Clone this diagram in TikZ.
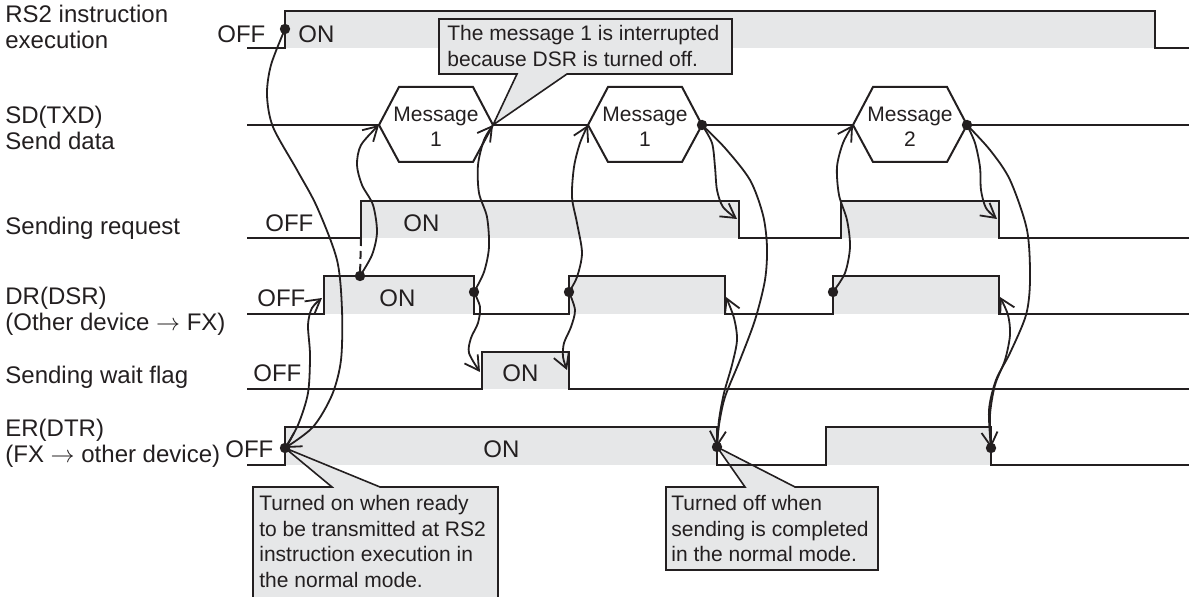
\documentclass[tikz,border=0pt]{standalone}
\usepackage{fontspec}
\setmainfont{Liberation Sans}
\usetikzlibrary{arrows.meta}
\definecolor{linecolor}{RGB}{35,31,32}
\definecolor{oncolor}{RGB}{230,231,232}

\begin{document}
\begin{tikzpicture}[
    x=0.5pt, y=-0.5pt,
    sig/.style={draw=linecolor, line width=1.3pt},
    onfill/.style={fill=oncolor},
    hexline/.style={draw=linecolor, line width=1pt},
    lbl/.style={anchor=north west, inner sep=0pt, align=left, text=linecolor, font=\fontsize{12}{13}\selectfont},
    lbl1/.style={lbl, anchor=base west},
    onoff/.style={anchor=base west, inner sep=0pt, text=linecolor, font=\fontsize{12}{13}\selectfont},
    msgtxt/.style={inner sep=0pt, align=center, text=linecolor, font=\fontsize{10.5}{12.5}\selectfont},
    arrow/.style={draw=linecolor, line width=0.9pt, -{Straight Barb[length=7pt, width=8pt]}},
    dot/.style={fill=linecolor},
    note/.style={fill=oncolor, draw=linecolor, line width=0.8pt},
    notetxt/.style={anchor=north west, inner sep=0pt, align=left, text=linecolor, font=\fontsize{10.5}{12.75}\selectfont}
]
\useasboundingbox (0,0) rectangle (1189,597);
\clip (0,0) rectangle (1189,597);

% Signal names
\node[lbl] (rs2name) at (5,5) {RS2 instruction\\execution};
\node[lbl] (sdname) at (5,106) {SD(TXD)\\Send data};
\node[lbl1] (reqname) at (5,235) {Sending request};
\node[lbl] (drname) at (5,287) {DR(DSR)\\(Other device $\rightarrow$ FX)};
\node[lbl1] (wfname) at (5,384) {Sending wait flag};
\node[lbl] (ername) at (5,419) {ER(DTR)\\(FX $\rightarrow$ other device)};

% ON areas
\fill[onfill] (285,11) rectangle (1155,48);
\fill[onfill] (361,201) rectangle (739,238);
\fill[onfill] (841,201) rectangle (999,238);
\fill[onfill] (324,276) rectangle (474,314);
\fill[onfill] (569,276) rectangle (725,314);
\fill[onfill] (833,276) rectangle (999,314);
\fill[onfill] (482,352) rectangle (569,389);
\fill[onfill] (285,427) rectangle (717,465);
\fill[onfill] (826,427) rectangle (991,465);

% Event points
\coordinate (rs2) at (285,29);
\coordinate (drA) at (360,276);
\coordinate (drB) at (474,292);
\coordinate (drC) at (569,292);
\coordinate (drD) at (833,292);
\coordinate (erA) at (285,448);
\coordinate (erB) at (717,447);
\coordinate (erC) at (991,448);
\coordinate (reqA) at (737,219);
\coordinate (reqB) at (997,219);
\coordinate (drR) at (322,298);
\coordinate (drFA) at (726,297);
\coordinate (drFB) at (1000,297);
\coordinate (wfR) at (480,372);
\coordinate (wfF) at (567,370);

% Messages
\foreach \n/\cx/\k in {1/436/1, 2/645/1, 3/910/2} {
  \coordinate (msg\n-w) at (\cx-57,125);
  \coordinate (msg\n-e) at (\cx+57,125);
  \draw[hexline] (msg\n-w) -- (\cx-37,87) -- (\cx+37,87) -- (msg\n-e) -- (\cx+37,162) -- (\cx-37,162) -- cycle;
  \node[msgtxt] (msg\n) at (\cx,127) {Message\\\k};
}

% Notes
\draw[note] (439,19) -- (732,19) -- (732,74) -- (567,74) -- (msg1-e) -- (517,74) -- (439,74) -- cycle;
\node[notetxt] (noteA) at (447,25) {The message 1 is interrupted\\because DSR is turned off.};
\draw[note] (253,610) -- (253,487) -- (332,487) -- (erA) -- (380,487) -- (498,487) -- (498,610) -- cycle;
\node[notetxt] (noteB) at (259,495) {Turned on when ready\\to be transmitted at RS2\\instruction execution in\\the normal mode.};
\draw[note] (666,487) -- (745,487) -- (erB) -- (795,487) -- (878,487) -- (878,570) -- (666,570) -- cycle;
\node[notetxt] (noteC) at (671,495) {Turned off when\\sending is completed\\in the normal mode.};

% Signal lines
\draw[sig] (247,48) -- (285,48) -- (285,11) -- (1155,11) -- (1155,48) -- (1189,48);
\draw[sig] (247,125) -- (msg1-w) (msg1-e) -- (msg2-w) (msg2-e) -- (msg3-w) (msg3-e) -- (1189,125);
\draw[sig] (247,238) -- (361,238) -- (361,201) -- (739,201) -- (739,238) -- (841,238) -- (841,201) -- (999,201) -- (999,238) -- (1189,238);
\draw[sig] (247,314) -- (324,314) -- (324,276) -- (474,276) -- (474,314) -- (569,314) -- (569,276) -- (725,276) -- (725,314) -- (833,314) -- (833,276) -- (999,276) -- (999,314) -- (1189,314);
\draw[sig] (247,389) -- (482,389) -- (482,352) -- (569,352) -- (569,389) -- (1189,389);
\draw[sig] (247,465) -- (285,465) -- (285,427) -- (717,427) -- (717,465) -- (826,465) -- (826,427) -- (991,427) -- (991,465) -- (1189,465);
\draw[sig, line width=1pt, dash pattern=on 4pt off 2.5pt] (361,238) -- (drA);

% OFF / ON
\node[onoff] (rs2off) at (217,43) {OFF};
\node[onoff] (rs2on) at (298,43) {ON};
\node[onoff] (reqoff) at (265,232) {OFF};
\node[onoff] (reqon) at (403,232) {ON};
\node[onoff] (droff) at (257,307) {OFF};
\node[onoff] (dron) at (379,307) {ON};
\node[onoff] (wfoff) at (253,382) {OFF};
\node[onoff] (wfon) at (502,382) {ON};
\node[onoff] (eroff) at (225,458) {OFF};
\node[onoff] (eron) at (483,458) {ON};

% Cause and effect
\draw[arrow] plot[smooth] coordinates {(rs2) (271,65) (267,95) (273,127) (297,170) (317,207) (337,260) (342,310) (341,360) (332,395) (313,427) (erA)};
\draw[arrow] plot[smooth] coordinates {(erA) (298,425) (308,393) (310,355) (308,325) (312,308) (drR)};
\draw[arrow] plot[smooth] coordinates {(drA) (372,255) (377,232) (373,205) (362,185) (357,165) (361,145) (msg1-w)};
\draw[arrow] plot[smooth] coordinates {(drB) (484,272) (489,247) (487,217) (479,193) (478,165) (484,140) (msg1-e)};
\draw[arrow] plot[smooth] coordinates {(drB) (480,307) (478,323) (471,338) (469,353) (wfR)};
\draw[arrow] plot[smooth] coordinates {(drC) (577,277) (582,253) (577,223) (572,197) (574,167) (580,143) (msg2-w)};
\draw[arrow] plot[smooth] coordinates {(drC) (575,310) (571,327) (564,343) (563,357) (wfF)};
\draw[arrow] plot[smooth] coordinates {(msg2-e) (712,143) (715,167) (717,190) (723,207) (reqA)};
\draw[arrow] plot[smooth] coordinates {(msg2-e) (725,148) (750,180) (763,215) (767,247) (765,280) (755,320) (740,360) (725,397) (719,425) (erB)};
\draw[arrow] plot[smooth] coordinates {(erB) (719,420) (724,393) (732,365) (737,340) (734,318) (drFA)};
\draw[arrow] plot[smooth] coordinates {(drD) (845,273) (850,247) (847,220) (839,195) (837,167) (843,143) (msg3-w)};
\draw[arrow] plot[smooth] coordinates {(msg3-e) (975,143) (980,167) (981,190) (986,208) (reqB)};
\draw[arrow] plot[smooth] coordinates {(msg3-e) (990,150) (1010,180) (1027,230) (1030,280) (1026,315) (1010,353) (996,380) (989,410) (erC)};
\draw[arrow] plot[smooth] coordinates {(erC) (990,415) (995,385) (1005,360) (1010,335) (1008,315) (drFB)};

% Dots
\foreach \p in {rs2, drA, drB, drC, drD, erA, erB, erC, msg2-e, msg3-e}
  \fill[dot] (\p) circle (2.6pt);

\end{tikzpicture}
\end{document}
